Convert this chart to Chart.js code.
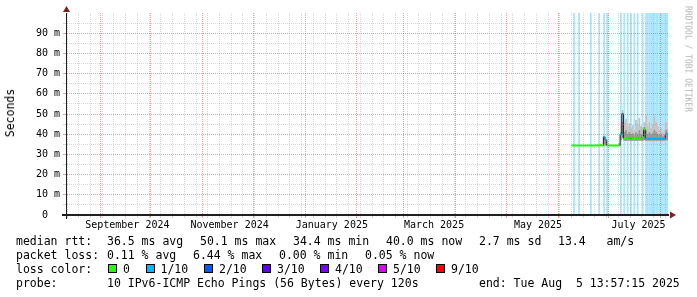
<!DOCTYPE html>
<html>
<head>
<meta charset="utf-8">
<script src="https://cdn.jsdelivr.net/npm/chart.js@4.4.1/dist/chart.umd.min.js"></script>
<style>
html, body { margin: 0; padding: 0; background: #fff; }
#wrap { position: relative; width: 697px; height: 297px; overflow: hidden; font-family: "DejaVu Sans Mono", monospace; color: #000; }
#wrap canvas { position: absolute; left: 0; top: 0; }
.t { position: absolute; white-space: pre; font-size: 11.5px; line-height: 14px; }
.box { position: absolute; width: 7px; height: 7px; border: 1px solid #000; top: 264px; }
#unit { position: absolute; left: 10px; top: 113px; font-size: 11.5px; transform: translate(-50%, -50%) rotate(-90deg); white-space: pre; }
#mark { position: absolute; left: 688px; top: 59px; font-size: 8px; color: #b4b4b4; transform: translate(-50%, -50%) rotate(90deg); white-space: pre; }
</style>
</head>
<body>
<div id="wrap">
  <canvas id="c" width="697" height="297"></canvas>
  <div id="unit">Seconds</div>
  <div id="mark">RRDTOOL / TOBI OETIKER</div>
  <div id="legend"></div>
</div>
<script>
///////////////////////////// dati letti dal grafico /////////////////////////////
// giorni con misure (un valore per giorno)
const giorni = [
  '2025-06-09','2025-06-10','2025-06-11','2025-06-12','2025-06-13','2025-06-14','2025-06-15','2025-06-16',
  '2025-06-17','2025-06-18','2025-06-19','2025-06-20','2025-06-21','2025-06-22','2025-06-23','2025-06-24',
  '2025-06-25','2025-06-26','2025-06-27','2025-06-28','2025-06-29','2025-06-30','2025-07-01','2025-07-02',
  '2025-07-03','2025-07-04','2025-07-05','2025-07-06','2025-07-07','2025-07-08','2025-07-09','2025-07-10',
  '2025-07-11','2025-07-12','2025-07-13','2025-07-14','2025-07-15','2025-07-16','2025-07-17','2025-07-18',
  '2025-07-19','2025-07-20','2025-07-21','2025-07-22','2025-07-23','2025-07-24','2025-07-25','2025-07-26',
  '2025-07-27','2025-07-28','2025-07-29','2025-07-30','2025-07-31','2025-08-01','2025-08-02','2025-08-03',
  '2025-08-04','2025-08-05'
];
// median rtt in ms
const mediana = [
  34.4, 34.4, 34.4, 34.4, 34.4, 34.4, 34.4, 34.4, 34.4, 34.4, 34.4, 34.4, 34.4, 34.4, 34.4, 34.4,
  34.4, 34.6, 34.4, 38.7, 37.2, 34.4, 34.4, 34.4, 34.4, 34.4, 34.4, 34.4, 34.4, 39.9, 50.1, 37.8,
  37.7, 38.0, 37.7, 38.4, 37.7, 37.8, 37.7, 38.2, 37.7, 37.8, 38.6, 42.3, 37.8, 37.7, 37.8, 37.7,
  37.8, 37.7, 37.8, 37.7, 37.8, 37.7, 37.8, 37.7, 40.0, 40.0
];
// indice del colore di perdita per la linea mediana (null = nessuna banda)
const perditaLinea = [
  0, 0, 0, 0, 0, 0, 0, 0, 0, 0, 0, 0, 0, 0, 0, 0,
  0, 0, 0, 1, 1, 0, 0, 0, 0, 0, 0, 0, 0, 1, null, 0,
  0, 0, 0, 0, 0, 0, 0, 0, 0, 0, 0, 0, 1, 1, 1, 1,
  1, 1, 1, 1, 1, 1, 1, 1, 1, 1
];
// giorni con perdita (sfondo azzurro)
const perditaSfondo = [
  0, 1, 0, 0, 1, 0, 0, 0, 0, 0, 0, 1, 0, 0, 0, 0,
  1, 0, 0, 1, 0, 1, 0, 0, 0, 0, 0, 0, 0, 1, 0, 1,
  0, 1, 0, 1, 0, 1, 0, 1, 0, 0, 1, 0, 1, 1, 1, 1,
  1, 1, 1, 1, 1, 1, 1, 1, 1, 1
];
// fumo: minimo, massimo e parte scura (ms)
const fumoMin = [
  null, null, null, null, null, null, null, null, null, null, null, null, null, null, null, null,
  null, null, null, 34.4, 34.4, null, null, null, null, null, null, null, 34.2, 37.0, 38.0, 36.8,
  36.8, 36.8, 36.8, 36.8, 36.8, 36.8, 36.8, 36.8, 36.8, 36.8, 36.8, 37.0, 36.8, 36.8, 36.8, 36.8,
  36.8, 36.8, 36.8, 36.8, 36.8, 36.8, 36.8, 36.8, 37.0, 37.0
];
const fumoMax = [
  null, null, null, null, null, null, null, null, null, null, null, null, null, null, null, null,
  null, null, null, 39.2, 37.6, null, null, null, null, null, null, null, 35.5, 45.0, 52.0, 46.0,
  47.5, 44.0, 45.5, 43.0, 44.5, 42.0, 47.0, 45.0, 48.0, 44.0, 43.5, 46.0, 49.5, 44.0, 46.0, 43.0,
  45.0, 49.0, 46.0, 44.0, 42.0, 43.0, 41.0, 42.0, 46.0, 43.0
];
const fumoScuro = [
  null, null, null, null, null, null, null, null, null, null, null, null, null, null, null, null,
  null, null, null, 38.9, 37.4, null, null, null, null, null, null, null, 35.0, 41.0, 46.0, 41.0,
  42.0, 40.0, 41.0, 40.0, 40.5, 39.5, 41.0, 40.0, 42.0, 40.0, 40.0, 43.5, 42.0, 40.0, 41.0, 40.0,
  40.5, 42.0, 41.0, 40.0, 39.5, 40.0, 39.0, 39.5, 42.0, 41.0
];

const coloriPerdita = ['#26ff00', '#00b8ff', '#0059ff', '#5e00ff', '#7e00ff', '#dd00ff', '#ff0000'];
const etichettePerdita = ['0', '1/10', '2/10', '3/10', '4/10', '5/10', '9/10'];

// etichette dell'asse x e loro posizione
const etichetteMesi = ['September 2024', 'November 2024', 'January 2025', 'March 2025', 'May 2025', 'July 2025'];
const dateEtichette = ['2024-09-17', '2024-11-17', '2025-01-17', '2025-03-19', '2025-05-20', '2025-07-19'];

///////////////////////////// tempo in giorni dal 1 settembre 2024 /////////////////////////////
const GIORNO = 86400000;
const T0 = Date.UTC(2024, 8, 1);
const inGiorni = s => (Date.parse(s + 'T00:00:00Z') - T0) / GIORNO;
const xMin = -20.6;
const xMax = (Date.parse('2025-08-05T13:57:15Z') - T0) / GIORNO;

const GRIGIO = 'rgba(143,143,143,0.35)';
const ROSSO = 'rgba(222,79,79,0.55)';
const NIENTE = 'rgba(0,0,0,0)';

// tacche: lunedi' (griglia minore), inizio mese (griglia maggiore), etichette
const infoTacche = new Map();
const tacca = v => { if (!infoTacche.has(v)) infoTacche.set(v, { grid: null, label: '' }); return infoTacche.get(v); };
for (let d = inGiorni('2024-08-12'); d <= xMax; d += 7) tacca(d).grid = 'minor';
for (let m = 0; m < 12; m++) tacca((Date.UTC(2024, 8 + m, 1) - T0) / GIORNO).grid = 'major';
dateEtichette.forEach((s, i) => { tacca(inGiorni(s)).label = etichetteMesi[i]; });
const valoriTacche = [...infoTacche.keys()].sort((a, b) => a - b);
const coloriGrigliaX = valoriTacche.map(v => {
    const g = infoTacche.get(v).grid;
    return g === 'major' ? ROSSO : g === 'minor' ? GRIGIO : NIENTE;
});
const valoriY = [];
for (let v = 0; v <= 100; v += 5) valoriY.push(v);
const coloriGrigliaY = valoriY.map(v => (v === 0 || v === 100) ? NIENTE : v % 10 === 0 ? ROSSO : GRIGIO);

const centro = i => inGiorni(giorni[i]) + 0.5;

const datiSfondo = [], datiFumo = [], datiScuro = [], datiLinea = [], datiBanda = [], coloriBanda = [];
giorni.forEach((g, i) => {
    if (perditaSfondo[i]) datiSfondo.push({ x: centro(i), y: [0, 100] });
    if (fumoMax[i] !== null) {
        datiFumo.push({ x: centro(i), y: [fumoMin[i], fumoMax[i]] });
        datiScuro.push({ x: centro(i), y: [fumoMin[i], fumoScuro[i]] });
    }
    datiLinea.push({ x: centro(i), y: mediana[i] });
    if (perditaLinea[i] !== null) {
        datiBanda.push({ x: centro(i), y: [mediana[i] - 0.5, mediana[i] + 0.5] });
        coloriBanda.push(coloriPerdita[perditaLinea[i]]);
    }
});

const barre = { type: 'bar', xAxisID: 'xd', grouped: false, barPercentage: 1.08, categoryPercentage: 1, borderWidth: 0 };

///////////////////////////// frecce degli assi /////////////////////////////
const frecce = {
    id: 'frecce',
    afterDraw(chart) {
        const { ctx, chartArea: a } = chart;
        ctx.save();
        ctx.fillStyle = '#801f1f';
        ctx.strokeStyle = '#1f1f1f';
        ctx.lineWidth = 2;
        ctx.beginPath(); ctx.moveTo(a.left - 4, a.bottom); ctx.lineTo(a.left, a.bottom); ctx.stroke();
        ctx.lineWidth = 1;
        ctx.beginPath(); ctx.moveTo(a.left + 0.5, a.bottom); ctx.lineTo(a.left + 0.5, a.bottom + 4); ctx.stroke();
        ctx.beginPath();
        ctx.moveTo(a.right + 2, a.bottom - 3.5); ctx.lineTo(a.right + 8, a.bottom); ctx.lineTo(a.right + 2, a.bottom + 3.5);
        ctx.fill();
        ctx.beginPath();
        ctx.moveTo(a.left - 3, a.top - 1); ctx.lineTo(a.left + 0.5, a.top - 7); ctx.lineTo(a.left + 4, a.top - 1);
        ctx.fill();
        ctx.restore();
    }
};

Chart.defaults.font.family = '"DejaVu Sans Mono", monospace';
Chart.defaults.font.size = 10;
Chart.defaults.color = '#000';

new Chart(document.getElementById('c'), {
    type: 'bar',
    data: {
        datasets: [
            { ...barre, data: datiSfondo, backgroundColor: '#aae4ff', order: 6 },
            { ...barre, data: datiFumo, backgroundColor: '#c4c4c4', order: 5 },
            { ...barre, data: datiScuro, backgroundColor: '#969696', order: 4 },
            { type: 'line', xAxisID: 'xd', data: datiLinea, stepped: 'middle', borderColor: '#202020',
              borderWidth: 1, pointRadius: 0, order: 3 },
            { ...barre, data: datiBanda, backgroundColor: coloriBanda, order: 2 }
        ]
    },
    options: {
        responsive: false,
        devicePixelRatio: 1,
        animation: false,
        layout: { padding: { top: 13, right: 29, left: 0, bottom: 0 } },
        plugins: { legend: { display: false }, tooltip: { enabled: false } },
        scales: {
            x: {
                type: 'linear', min: xMin, max: xMax, offset: false, bounds: 'data',
                afterBuildTicks: s => { s.ticks = valoriTacche.map(v => ({ value: v })); },
                afterFit: s => { s.height = 82; },
                ticks: {
                    autoSkip: false, maxRotation: 0, minRotation: 0, padding: 1,
                    callback: v => (infoTacche.get(v) || {}).label || ''
                },
                grid: { offset: false, tickLength: 3, z: 1, color: coloriGrigliaX },
                border: { color: '#1f1f1f', width: 2, dash: [1, 1], z: 2 }
            },
            xd: {
                type: 'linear', min: xMin, max: xMax, offset: false, bounds: 'data', display: false,
                grid: { offset: false }
            },
            y: {
                min: 0, max: 100,
                afterBuildTicks: s => { s.ticks = valoriY.map(v => ({ value: v })); },
                afterFit: s => { s.width = 66; },
                ticks: {
                    autoSkip: false, padding: 3,
                    callback: v => (v % 10 === 0 && v < 100) ? (v === 0 ? '0  ' : v + ' m') : ''
                },
                grid: { tickLength: 3, z: 1, color: coloriGrigliaY },
                border: { color: '#1f1f1f', width: 1, dash: [1, 1], z: 2 }
            }
        }
    },
    plugins: [frecce]
});

///////////////////////////// legenda testuale /////////////////////////////
const legenda = document.getElementById('legend');
const scrivi = (x, y, testo) => {
    const d = document.createElement('div');
    d.className = 't';
    d.style.left = x + 'px';
    d.style.top = y + 'px';
    d.textContent = testo;
    legenda.appendChild(d);
};
const righe = [
    [234, [[16, 'median rtt:'], [107, '36.5 ms avg'], [200, '50.1 ms max'], [293, '34.4 ms min'],
           [386, '40.0 ms now'], [479, '2.7 ms sd'], [558, '13.4   am/s']]],
    [248, [[16, 'packet loss:'], [107, '0.11 % avg'], [193, '6.44 % max'], [279, '0.00 % min'], [365, '0.05 % now']]],
    [262, [[16, 'loss color:']]],
    [276, [[16, 'probe:'], [107, '10 IPv6-ICMP Echo Pings (56 Bytes) every 120s'], [479, 'end: Tue Aug  5 13:57:15 2025']]]
];
righe.forEach(([y, pezzi]) => pezzi.forEach(([x, t]) => scrivi(x, y, t)));

const posBox = [108, 145.5, 204, 262, 320, 378, 436];
etichettePerdita.forEach((e, i) => {
    const b = document.createElement('div');
    b.className = 'box';
    b.style.left = posBox[i] + 'px';
    b.style.background = coloriPerdita[i];
    legenda.appendChild(b);
    scrivi(posBox[i] + 15, 262, e);
});
</script>
</body>
</html>
